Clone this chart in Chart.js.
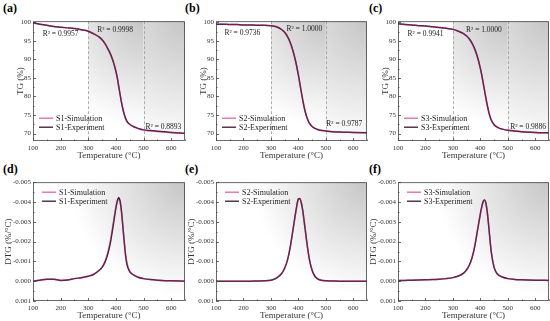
<!DOCTYPE html>
<html>
<head>
    <title>TG / DTG simulation vs experiment</title>
    <style>
        body {
            margin: 0;
            padding: 0;
            background-color: #fff;
            font-family: "Liberation Serif", serif;
        }

        #figure {
            position: relative;
            width: 550px;
            height: 321px;
            overflow: hidden;
        }

        #figure canvas {
            position: absolute;
        }

        .panel-tag {
            position: absolute;
            font-weight: bold;
            font-size: 12px;
            line-height: 12px;
        }
    </style>
</head>
<body>
    <div id="figure">
        <div class="panel-tag" style="left:3px;top:2px">(a)</div>
        <div class="panel-tag" style="left:185px;top:2px">(b)</div>
        <div class="panel-tag" style="left:369px;top:2px">(c)</div>
        <div class="panel-tag" style="left:3px;top:163px">(d)</div>
        <div class="panel-tag" style="left:185px;top:163px">(e)</div>
        <div class="panel-tag" style="left:369px;top:163px">(f)</div>
    </div>

    <script src="https://cdn.jsdelivr.net/npm/chart.js"></script>
    <script>
        // temperatures (°C) shared by every curve
        const temps = [100, 125, 150, 175, 200, 225, 250, 275, 300, 320, 340, 350, 360, 370, 380, 390, 400,
                       405, 410, 415, 420, 425, 430, 435, 440, 450, 460, 470, 480, 500, 525, 550, 600, 650];

        // TG (%)
        const s1TgExp = [99.8, 99.5, 99.2, 98.9, 98.7, 98.5, 98.3, 98.0, 97.6, 96.9, 96.0, 95.3, 94.3, 93.0, 91.5, 89.5, 86.8,
                         85.0, 82.8, 80.6, 78.5, 76.7, 75.2, 74.1, 73.3, 72.5, 72.0, 71.7, 71.4, 71.0, 70.8, 70.6, 70.3, 70.1];
        const s1TgSim = [99.8, 99.5, 99.2, 98.9, 98.7, 98.5, 98.3, 98.0, 97.6, 96.9, 96.0, 95.3, 94.3, 93.0, 91.4, 89.4, 86.8,
                         85.0, 82.9, 80.7, 78.6, 76.8, 75.3, 74.2, 73.3, 72.5, 72.0, 71.6, 71.3, 70.9, 70.7, 70.5, 70.3, 70.1];
        const s2TgExp = [99.5, 99.5, 99.4, 99.4, 99.3, 99.3, 99.2, 99.2, 99.1, 98.8, 98.0, 97.3, 96.2, 94.6, 92.4, 89.5, 85.8,
                         83.7, 81.5, 79.4, 77.5, 75.9, 74.6, 73.6, 72.8, 71.9, 71.4, 71.1, 70.9, 70.7, 70.5, 70.4, 70.3, 70.2];
        const s2TgSim = [99.5, 99.5, 99.4, 99.4, 99.3, 99.3, 99.2, 99.2, 99.1, 98.8, 98.0, 97.3, 96.2, 94.6, 92.4, 89.5, 85.8,
                         83.7, 81.5, 79.4, 77.5, 75.9, 74.6, 73.6, 72.8, 71.9, 71.4, 71.1, 70.9, 70.7, 70.5, 70.4, 70.3, 70.2];
        const s3TgExp = [99.6, 99.4, 99.3, 99.1, 99.0, 98.8, 98.6, 98.4, 98.1, 97.6, 96.9, 96.3, 95.5, 94.3, 92.7, 90.5, 87.6,
                         85.8, 83.8, 81.7, 79.6, 77.7, 76.0, 74.6, 73.6, 72.4, 71.8, 71.4, 71.2, 70.9, 70.7, 70.5, 70.3, 70.2];
        const s3TgSim = [99.6, 99.4, 99.3, 99.1, 99.0, 98.8, 98.6, 98.4, 98.1, 97.6, 96.9, 96.3, 95.5, 94.3, 92.7, 90.5, 87.6,
                         85.8, 83.8, 81.7, 79.6, 77.7, 76.0, 74.6, 73.6, 72.4, 71.8, 71.4, 71.2, 70.9, 70.7, 70.5, 70.3, 70.2];

        // DTG (%/°C)
        const s1DtgExp = [0, -0.00005, -0.00010, -0.00010, -0.00004, -0.00006, -0.00013, -0.00018, -0.00025, -0.00035, -0.00055,
                          -0.00070, -0.00095, -0.00135, -0.00195, -0.00280, -0.00370, -0.00405, -0.00422, -0.00405, -0.00355,
                          -0.00280, -0.00200, -0.00130, -0.00085, -0.00048, -0.00035, -0.00027, -0.00020, -0.00013, -0.00008,
                          -0.00005, -0.00002, 0];
        const s1DtgSim = [0, -0.00005, -0.00010, -0.00010, -0.00005, -0.00007, -0.00013, -0.00018, -0.00025, -0.00035, -0.00056,
                          -0.00072, -0.00100, -0.00145, -0.00210, -0.00295, -0.00375, -0.00402, -0.00412, -0.00398, -0.00352,
                          -0.00282, -0.00205, -0.00140, -0.00095, -0.00052, -0.00036, -0.00027, -0.00020, -0.00013, -0.00008,
                          -0.00005, -0.00002, 0];
        const s2DtgExp = [0, 0, 0, 0, 0, 0, -0.00001, -0.00002, -0.00005, -0.00015, -0.00040, -0.00065, -0.00105, -0.00170,
                          -0.00255, -0.00345, -0.00415, -0.00418, -0.00400, -0.00365, -0.00315, -0.00260, -0.00205, -0.00155,
                          -0.00112, -0.00055, -0.00025, -0.00012, -0.00006, -0.00002, -0.00001, 0, 0, 0];
        const s2DtgSim = [0, 0, 0, 0, 0, 0, -0.00001, -0.00002, -0.00005, -0.00016, -0.00041, -0.00066, -0.00106, -0.00170,
                          -0.00254, -0.00343, -0.00412, -0.00417, -0.00401, -0.00366, -0.00316, -0.00261, -0.00206, -0.00156,
                          -0.00113, -0.00056, -0.00026, -0.00012, -0.00006, -0.00002, -0.00001, 0, 0, 0];
        const s3DtgExp = [-0.00003, -0.00004, -0.00005, -0.00006, -0.00007, -0.00008, -0.00010, -0.00013, -0.00018, -0.00026,
                          -0.00042, -0.00058, -0.00082, -0.00120, -0.00180, -0.00260, -0.00340, -0.00375, -0.00402, -0.00410,
                          -0.00395, -0.00350, -0.00285, -0.00210, -0.00145, -0.00070, -0.00040, -0.00028, -0.00021, -0.00013,
                          -0.00009, -0.00007, -0.00005, -0.00004];
        const s3DtgSim = [-0.00003, -0.00004, -0.00005, -0.00006, -0.00007, -0.00008, -0.00010, -0.00013, -0.00018, -0.00026,
                          -0.00042, -0.00058, -0.00083, -0.00121, -0.00181, -0.00261, -0.00340, -0.00374, -0.00400, -0.00408,
                          -0.00394, -0.00350, -0.00286, -0.00212, -0.00147, -0.00071, -0.00040, -0.00028, -0.00021, -0.00013,
                          -0.00009, -0.00007, -0.00005, -0.00004];

        const xTicks = [100, 200, 300, 400, 500, 600];
        const tgTicks = [70, 75, 80, 85, 90, 95, 100];
        const dtgTicks = [-0.005, -0.004, -0.003, -0.002, -0.001, 0, 0.001];

        const serif = '"Liberation Serif", "Times New Roman", serif';
        const simColor = '#e066a8';
        const expColor = '#3a1634';

        const panels = [
            { kind: 'tg', name: 'S1', exp: s1TgExp, sim: s1TgSim, L: 33, T: 20, R: 185, B: 141,
              r2: [['R\u00b2 = 0.9957', 200, 96.8], ['R\u00b2 = 0.9998', 397, 97.8], ['R\u00b2 = 0.8893', 572, 71.9]] },
            { kind: 'tg', name: 'S2', exp: s2TgExp, sim: s2TgSim, L: 216, T: 20, R: 367, B: 141,
              r2: [['R\u00b2 = 0.9736', 196, 97.1], ['R\u00b2 = 1.0000', 422, 98.3], ['R\u00b2 = 0.9787', 567, 72.7]] },
            { kind: 'tg', name: 'S3', exp: s3TgExp, sim: s3TgSim, L: 398, T: 20, R: 549, B: 141,
              r2: [['R\u00b2 = 0.9941', 200, 96.9], ['R\u00b2 = 1.0000', 413, 97.8], ['R\u00b2 = 0.9886', 574, 71.9]] },
            { kind: 'dtg', name: 'S1', exp: s1DtgExp, sim: s1DtgSim, L: 33, T: 181, R: 185, B: 301, r2: [] },
            { kind: 'dtg', name: 'S2', exp: s2DtgExp, sim: s2DtgSim, L: 216, T: 181, R: 367, B: 301, r2: [] },
            { kind: 'dtg', name: 'S3', exp: s3DtgExp, sim: s3DtgSim, L: 398, T: 181, R: 549, B: 301, r2: [] }
        ];

        // shaded plot background, dashed guide lines
        const backdrop = {
            id: 'backdrop',
            beforeDatasetsDraw(chart, args, opts) {
                const { ctx, chartArea: a, scales: { x } } = chart;
                ctx.save();
                if (opts.kind === 'tg') {
                    [[300, 500, 0.8], [500, 650, 1.0]].forEach(([t0, t1, k]) => {
                        const x0 = x.getPixelForValue(t0), x1 = x.getPixelForValue(t1);
                        const r = Math.hypot(x1 - x0, a.bottom - a.top) * k;
                        const g = ctx.createRadialGradient(x1, a.top, 0, x1, a.top, r);
                        g.addColorStop(0, '#c6c6c6');
                        g.addColorStop(1, '#ffffff');
                        ctx.fillStyle = g;
                        ctx.fillRect(x0, a.top, x1 - x0, a.bottom - a.top);
                    });
                    ctx.strokeStyle = '#9a9a9a';
                    ctx.lineWidth = 0.8;
                    ctx.setLineDash([3, 2]);
                    [300, 500].forEach(t => {
                        const px = Math.round(x.getPixelForValue(t)) + 0.5;
                        ctx.beginPath();
                        ctx.moveTo(px, a.top);
                        ctx.lineTo(px, a.bottom);
                        ctx.stroke();
                    });
                } else {
                    const r = (a.right - a.left) * 0.75;
                    const g = ctx.createRadialGradient(a.right, a.top, 0, a.right, a.top, r);
                    g.addColorStop(0, '#c6c6c6');
                    g.addColorStop(1, '#ffffff');
                    ctx.fillStyle = g;
                    ctx.fillRect(a.left, a.top, a.right - a.left, a.bottom - a.top);
                }
                ctx.restore();
            }
        };

        // frame, inward ticks, legend and R² notes
        const overlay = {
            id: 'overlay',
            afterDatasetsDraw(chart, args, opts) {
                const { ctx, chartArea: a, scales: { x, y } } = chart;
                ctx.save();
                ctx.strokeStyle = '#444';
                ctx.lineWidth = 0.8;
                ctx.strokeRect(a.left + 0.5, a.top + 0.5, a.right - a.left - 1, a.bottom - a.top - 1);

                ctx.beginPath();
                for (let t = 100; t <= 650; t += 50) {
                    const px = Math.round(x.getPixelForValue(t)) + 0.5;
                    const len = t % 100 === 0 ? 3 : 1.5;
                    ctx.moveTo(px, a.bottom);
                    ctx.lineTo(px, a.bottom - len);
                }
                const yt = opts.kind === 'tg' ? tgTicks : dtgTicks;
                yt.forEach((v, i) => {
                    const py = Math.round(y.getPixelForValue(v)) + 0.5;
                    ctx.moveTo(a.left, py);
                    ctx.lineTo(a.left + 3, py);
                    if (i < yt.length - 1) {
                        const pm = Math.round(y.getPixelForValue((v + yt[i + 1]) / 2)) + 0.5;
                        ctx.moveTo(a.left, pm);
                        ctx.lineTo(a.left + 1.5, pm);
                    }
                });
                ctx.stroke();

                // legend
                const lx = opts.kind === 'tg' ? a.left + 6 : a.left + 9;
                const ly = opts.kind === 'tg' ? a.top + 97 : a.top + 10;
                ctx.font = '8px ' + serif;
                ctx.textBaseline = 'middle';
                ctx.fillStyle = '#222';
                chart.data.datasets.forEach((ds, i) => {
                    const yy = ly + i * 9;
                    ctx.strokeStyle = ds.legendColor;
                    ctx.lineWidth = 1.3;
                    ctx.beginPath();
                    ctx.moveTo(lx, yy);
                    ctx.lineTo(lx + 14, yy);
                    ctx.stroke();
                    ctx.fillText(ds.label, lx + 17, yy + 0.5);
                });

                ctx.font = '7.5px ' + serif;
                ctx.textAlign = 'center';
                opts.r2.forEach(([txt, t, v]) => {
                    ctx.fillText(txt, x.getPixelForValue(t), y.getPixelForValue(v));
                });
                ctx.restore();
            }
        };

        const fig = document.getElementById('figure');

        panels.forEach(p => {
            const yW = p.kind === 'tg' ? 18 : 30;
            const padTop = 5, xH = 20, padRight = 1;
            const w = yW + (p.R - p.L) + padRight;
            const h = padTop + (p.B - p.T) + xH;
            const canvas = document.createElement('canvas');
            canvas.width = w;
            canvas.height = h;
            canvas.style.width = w + 'px';
            canvas.style.height = h + 'px';
            canvas.style.left = (p.L - yW) + 'px';
            canvas.style.top = (p.T - padTop) + 'px';
            fig.appendChild(canvas);

            const isTg = p.kind === 'tg';
            new Chart(canvas.getContext('2d'), {
                type: 'line',
                data: {
                    datasets: [
                        {
                            label: p.name + '-Simulation',
                            data: temps.map((t, i) => ({ x: t, y: p.sim[i] })),
                            borderColor: 'rgba(205, 45, 135, 0.38)',
                            legendColor: simColor,
                            borderWidth: 1.4
                        },
                        {
                            label: p.name + '-Experiment',
                            data: temps.map((t, i) => ({ x: t, y: p.exp[i] })),
                            borderColor: expColor,
                            legendColor: expColor,
                            borderWidth: 1.5
                        }
                    ]
                },
                options: {
                    responsive: false,
                    animation: false,
                    devicePixelRatio: 1,
                    layout: { padding: { top: padTop, right: padRight, left: 0, bottom: 0 } },
                    elements: {
                        point: { radius: 0 },
                        line: { cubicInterpolationMode: 'monotone', fill: false }
                    },
                    plugins: {
                        legend: { display: false },
                        tooltip: { enabled: false },
                        backdrop: { kind: p.kind },
                        overlay: { kind: p.kind, r2: p.r2 }
                    },
                    scales: {
                        x: {
                            type: 'linear',
                            min: 100,
                            max: 650,
                            grid: { display: false, drawTicks: false, tickLength: 0 },
                            border: { display: false },
                            afterBuildTicks: s => { s.ticks = xTicks.map(v => ({ value: v })); },
                            afterFit: s => { s.height = xH; },
                            ticks: { color: '#333', font: { family: serif, size: 7 }, padding: 3, maxRotation: 0 },
                            title: { display: true, text: 'Temperature (\u00b0C)', color: '#333', font: { family: serif, size: 9 }, padding: 0 }
                        },
                        y: {
                            type: 'linear',
                            min: isTg ? 68 : -0.005,
                            max: isTg ? 100.3 : 0.001,
                            reverse: !isTg,
                            grid: { display: false, drawTicks: false, tickLength: 0 },
                            border: { display: false },
                            afterBuildTicks: s => { s.ticks = (isTg ? tgTicks : dtgTicks).map(v => ({ value: v })); },
                            afterFit: s => { s.width = yW; },
                            ticks: {
                                color: '#333',
                                font: { family: serif, size: 7 },
                                padding: 2,
                                callback: v => isTg ? String(v) : (Math.abs(v) < 1e-9 ? '0.000' : v.toFixed(3))
                            },
                            title: { display: true, text: isTg ? 'TG (%)' : 'DTG (%/\u00b0C)', color: '#333', font: { family: serif, size: 9 }, padding: 0 }
                        }
                    }
                },
                plugins: [backdrop, overlay]
            });
        });
    </script>
</body>
</html>
